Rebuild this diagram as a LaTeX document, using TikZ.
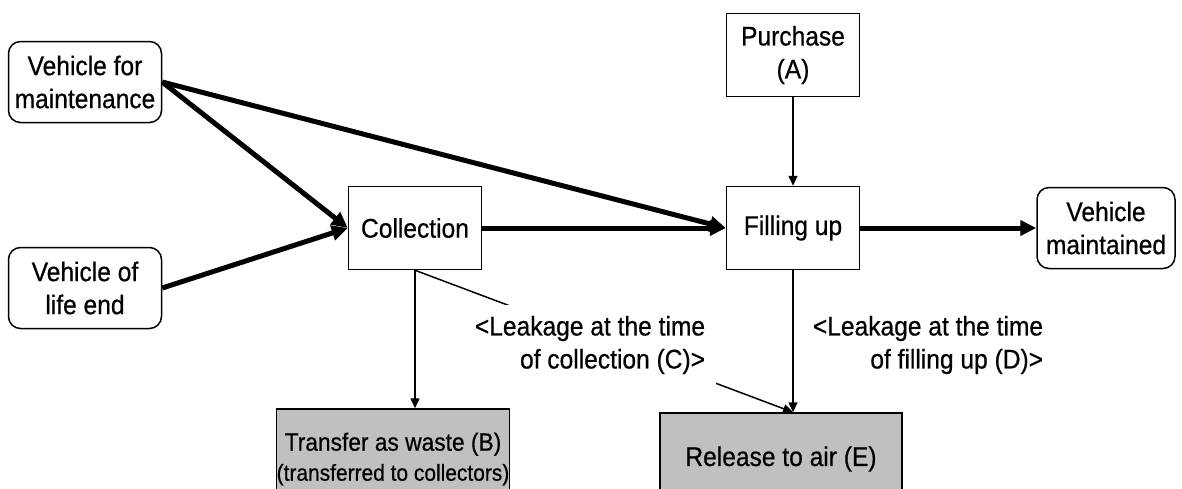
\documentclass[tikz,border=0pt]{standalone}
\usepackage{fontspec}
\setmainfont{Liberation Sans}[FakeStretch=0.91, FakeBold=0.6]
\usetikzlibrary{arrows.meta}
\definecolor{boxgray}{RGB}{192,192,192}

\tikzset{
    proc/.style={draw, line width=1.5pt, minimum width=133pt, minimum height=83pt,
        align=center, inner sep=0pt},
    vehicle/.style={proc, rounded corners=12pt, minimum width=153pt, minimum height=81pt},
    output/.style={proc, fill=boxgray},
    flow/.style={line width=5pt, -{Triangle[length=16pt,width=15pt]}},
    thinflow/.style={line width=1.5pt, -{Triangle[length=10pt,width=9pt]}},
    leak/.style={fill=white, align=right, inner sep=11pt}
}

\begin{document}
\begin{tikzpicture}[x=1pt, y=-1pt, font=\fontsize{27}{33}\selectfont]
    \useasboundingbox (0,0) rectangle (1182,488);

    \node [vehicle] (vfm)  at (85,82)   {Vehicle for\\maintenance};  % vehicles coming in
    \node [vehicle] (vole) at (85,288)  {Vehicle of\\life end};
    \node [proc] (coll)   at (415,228)  {Collection};
    \node [proc] (purch)  at (793,55)   {Purchase\\(A)};
    \node [proc] (fill)   at (793,228)  {Filling up};
    \node [vehicle, minimum width=138pt] (vmain) at (1106,228) {Vehicle\\maintained};

    \node [output, minimum width=232pt, minimum height=100pt] (waste) at (393,459)
        {\fontsize{25}{30}\selectfont Transfer as waste (B)\\[-3pt]{\fontsize{23}{27}\selectfont (transferred to collectors)}};
    \node [output, minimum width=242pt, minimum height=92pt] (rel) at (781,459)
        {Release to air (E)};

    \draw [flow] (vfm.east) -- (coll.west);           % main flow
    \draw [flow] (vole.east) -- (coll.west);
    \draw [flow] (vfm.east) -- (fill.west);
    \draw [flow] (coll.east) -- (fill.west);
    \draw [flow] (fill.east) -- (vmain.west);

    \draw [thinflow] (purch.south) -- (fill.north);
    \draw [thinflow] (coll.south) -- (coll.south |- waste.north);
    \draw [thinflow] (fill.south) -- (fill.south |- rel.north);
    \draw [thinflow] (coll.south) -- (fill.south |- rel.north);   % leakage (C)

    \node [leak] (leakc) at (590,345) {<Leakage at the time\\of collection (C)>};
    \node [leak, fill=none] (leakd) at (928,345) {<Leakage at the time\\of filling up (D)>};
\end{tikzpicture}
\end{document}
